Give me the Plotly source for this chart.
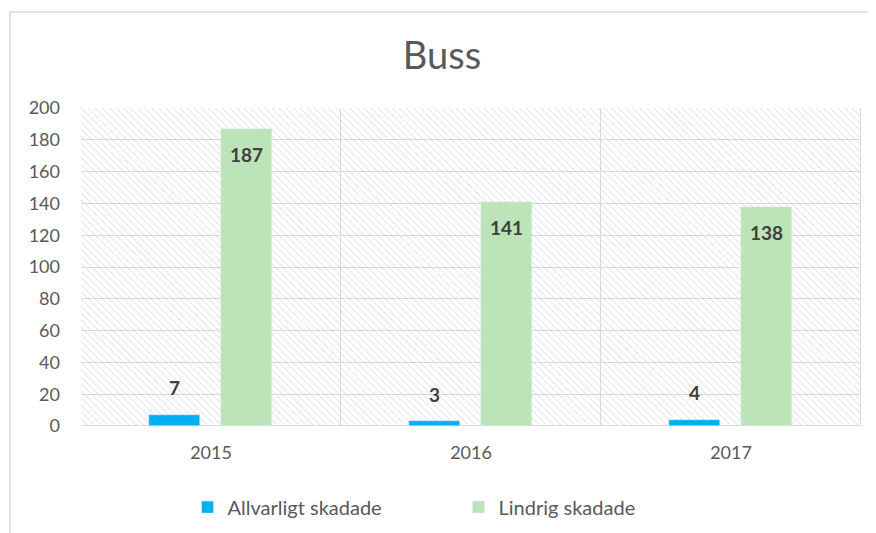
import plotly.graph_objects as go

years = ["2015", "2016", "2017"]
allvarligt = [7, 3, 4]
lindrig = [187, 141, 138]
y_max = 200
y_ticks = list(range(0, 201, 20))

FONT = "Lato, Calibri, Carlito, sans-serif"
GRAY = "#595959"

fig = go.Figure()

# hatched plot-area background
fig.add_trace(go.Bar(
    x=years, y=[y_max] * len(years), width=1, offset=-0.5,
    marker=dict(color="rgba(0,0,0,0)",
                line=dict(color="#d9d9d9", width=1),
                pattern=dict(shape="\\", fgcolor="#cfcfcf", bgcolor="rgba(0,0,0,0)",
                             size=5, solidity=0.15, fillmode="replace")),
    hoverinfo="skip", showlegend=False))

fig.add_trace(go.Bar(name="Allvarligt skadade", x=years, y=allvarligt,
                     width=0.196, offset=-0.238, marker_color="#00B0F0"))
fig.add_trace(go.Bar(name="Lindrig skadade", x=years, y=lindrig,
                     width=0.196, offset=0.038, marker_color="#BCE4B8"))

for i, yr in enumerate(years):
    fig.add_annotation(x=i - 0.14, y=allvarligt[i], text=f"<b>{allvarligt[i]}</b>",
                       showarrow=False, yshift=27,
                       font=dict(family=FONT, size=19, color="#404040"))
    fig.add_annotation(x=i + 0.136, y=lindrig[i], text=f"<b>{lindrig[i]}</b>",
                       showarrow=False, yshift=-26,
                       font=dict(family=FONT, size=19, color="#404040"))

# chart border
fig.add_shape(type="rect", xref="paper", yref="paper",
              x0=-0.091, x1=1.03, y0=-0.4, y1=1.302,
              line=dict(color="#d9d9d9", width=1.5), layer="below")

fig.update_layout(
    width=868, height=525,
    margin=dict(l=73, r=15, t=100, b=107, autoexpand=False),
    barmode="overlay",
    paper_bgcolor="white", plot_bgcolor="white",
    title=dict(text="Buss", x=0.5, xanchor="center", y=0.910, yanchor="middle",
               font=dict(family=FONT, size=38, color=GRAY)),
    font=dict(family=FONT, color=GRAY, size=18),
    xaxis=dict(type="category", range=[-0.5, 2.5], showgrid=False, showline=False,
               ticks="", tickfont=dict(size=18, color=GRAY), ticklabelstandoff=14,
               automargin=False),
    yaxis=dict(range=[0, y_max], tickvals=y_ticks, showgrid=True, gridcolor="#d9d9d9",
               gridwidth=1, zeroline=False, showline=False, ticks="",
               tickfont=dict(size=18, color=GRAY), ticklabelstandoff=20,
               automargin=False),
    legend=dict(orientation="h", x=0.484, xanchor="center", y=-0.255, yanchor="middle",
                font=dict(size=20, color=GRAY), entrywidth=226, traceorder="normal"),
    bargap=0,
)

fig.write_html("out.html")
